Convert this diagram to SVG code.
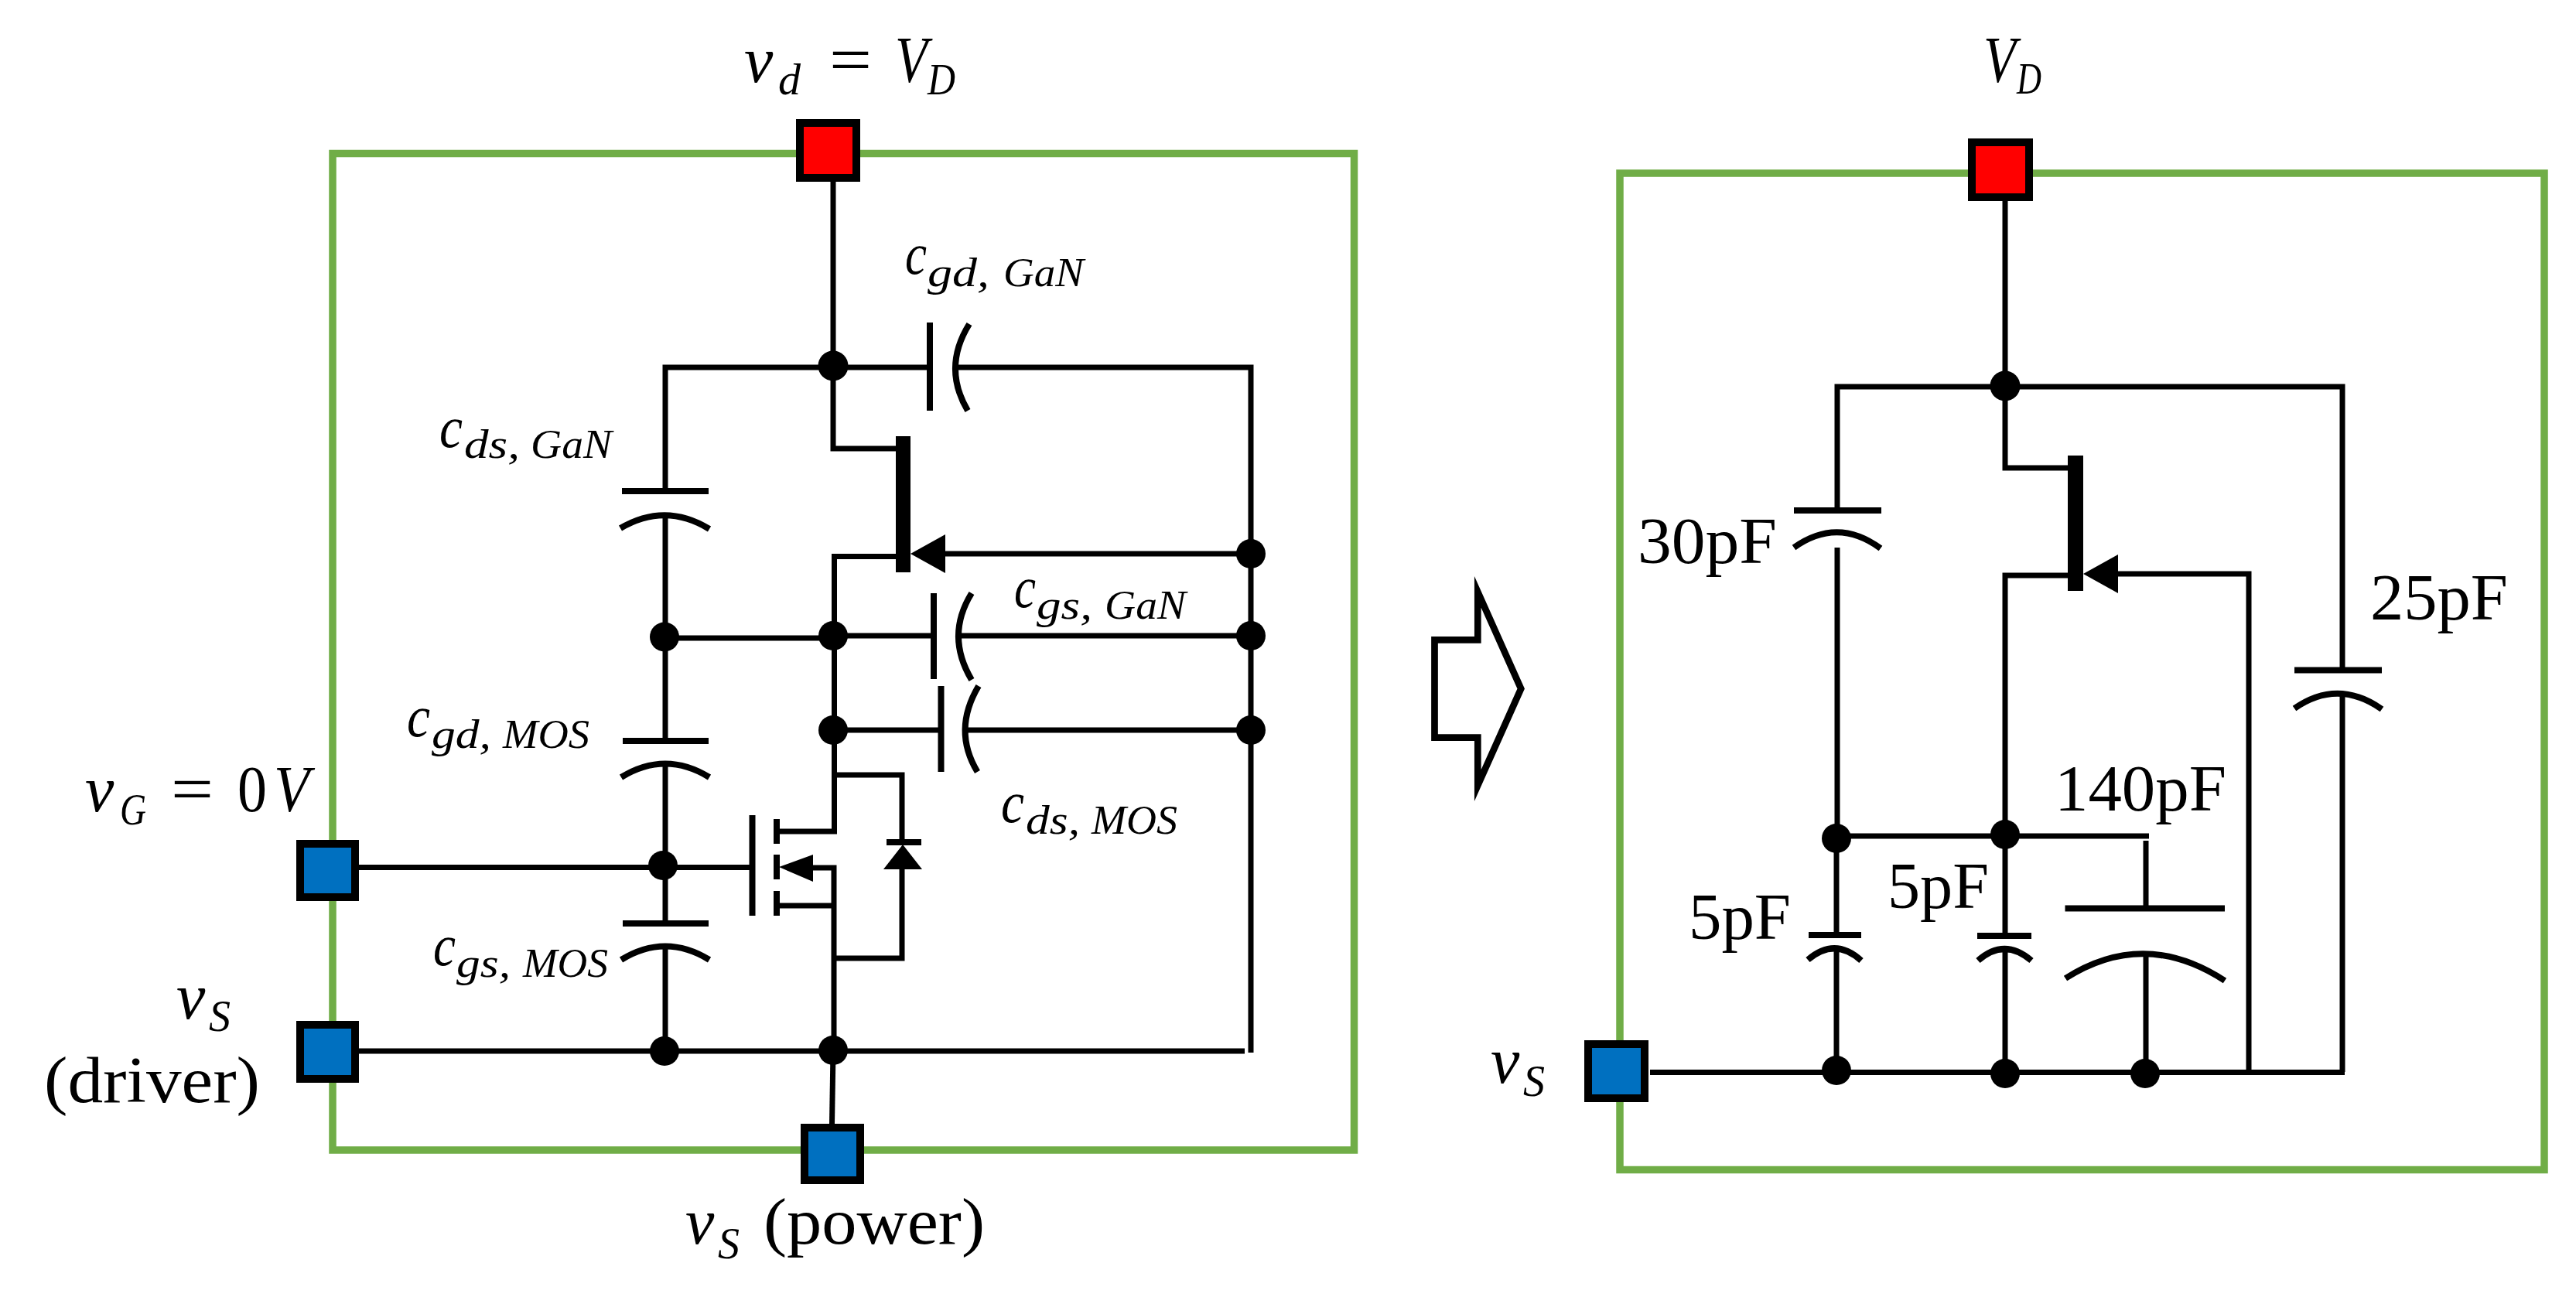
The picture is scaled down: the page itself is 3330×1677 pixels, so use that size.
<svg xmlns="http://www.w3.org/2000/svg" width="3330" height="1677" viewBox="0 0 3330 1677">
<style>
.frame{fill:none;stroke:#70AD47;stroke-width:9.5}
.w{fill:none;stroke:#000;stroke-width:7}
.p{fill:none;stroke:#000;stroke-width:8}
.a{fill:none;stroke:#000;stroke-width:8}
.k{fill:#000;stroke:none}
.red{fill:#FF0000;stroke:#000;stroke-width:10}
.blue{fill:#0070C0;stroke:#000;stroke-width:10}
text{font-family:"Liberation Serif","Times New Roman",serif;fill:#000;font-size:84px}
.i{font-style:italic}
.c{font-style:italic;font-size:76px}
.s{font-size:58px}
.t{font-size:52px}
</style>
<rect id="frame-left" class="frame" x="430" y="198.5" width="1320.5" height="1288.5"/>
<rect id="frame-right" class="frame" x="2094" y="224" width="1195" height="1288.5"/>
<g id="connectors">
<path class="w" d="M1077 235V580H1158"/>
<path class="w" d="M860 635V475H1202M1235 475H1617V1361"/>
<path class="w" d="M1222 716H1617"/>
<path class="w" d="M1158 719.500H1078.500V1075H1004"/>
<path class="w" d="M860 666V958M860 987V1194M860 1223V1359"/>
<path class="w" d="M860 825H1077"/>
<path class="w" d="M1077 822H1207M1239 822H1617"/>
<path class="w" d="M1077 944H1216M1248 944H1617"/>
<path class="w" d="M464 1121.500H969"/>
<path class="w" d="M1050 1122H1078V1359"/>
<path class="w" d="M1004 1171H1078"/>
<path class="w" d="M1078 1002H1166V1089M1166 1124V1239H1078"/>
<path class="w" d="M464 1359H1609"/>
<path class="w" d="M1077 1359L1075.500 1453"/>
<path class="w" d="M2592 260V605H2673"/>
<path class="w" d="M2375 660V500H3028V866M3028 897V1386"/>
<path class="w" d="M2738 742H2907V1386"/>
<path class="w" d="M2673 744H2592V1209M2592 1227V1386"/>
<path class="w" d="M2375 708V1084M2375 1081H2778M2774 1087V1174M2374 1084V1209M2374 1226V1386M2774 1232V1386"/>
<path class="w" d="M2133 1386.500H3031"/>
</g>
<g id="junctions">
<circle class="k" cx="1077" cy="473" r="19.500"/><circle class="k" cx="859" cy="823.500" r="19"/><circle class="k" cx="1077" cy="822" r="19"/><circle class="k" cx="1617" cy="822" r="19"/><circle class="k" cx="1617" cy="716" r="19"/><circle class="k" cx="1077" cy="944" r="19"/><circle class="k" cx="1617" cy="944" r="19"/><circle class="k" cx="857" cy="1119" r="19"/><circle class="k" cx="859" cy="1359" r="19"/><circle class="k" cx="1077" cy="1358" r="19"/>
<circle class="k" cx="2592" cy="499" r="19.500"/><circle class="k" cx="2374" cy="1084" r="19"/><circle class="k" cx="2592" cy="1079" r="19"/><circle class="k" cx="2374" cy="1384" r="19"/><circle class="k" cx="2592" cy="1388" r="19"/><circle class="k" cx="2773" cy="1388" r="19"/>
</g>
<g id="cap-gd-gan"><path class="p" d="M1202 417V531"/><path class="a" d="M1253 419Q1218 475 1251 531"/></g>
<g id="cap-ds-gan"><path class="p" d="M804 635H916"/><path class="a" d="M802 683Q860 649 917 684"/></g>
<g id="cap-gs-gan"><path class="p" d="M1207 767V878"/><path class="a" d="M1256 767Q1222 822 1256 879"/></g>
<g id="cap-ds-mos"><path class="p" d="M1216.500 887V998"/><path class="a" d="M1265 887Q1231 944 1263.500 998"/></g>
<g id="cap-gd-mos"><path class="p" d="M805 958H916"/><path class="a" d="M803 1005Q860 970 917 1005"/></g>
<g id="cap-gs-mos"><path class="p" d="M805 1194H916"/><path class="a" d="M803 1241Q860 1206 917 1241"/></g>
<g id="gan-hemt-left"><rect class="k" x="1158" y="564" width="19" height="176"/><path class="k" d="M1177 716L1222 691V741Z"/></g>
<g id="mosfet">
<path class="p" d="M972.500 1054V1184"/>
<path class="p" d="M1004 1059V1091M1004 1105V1137M1004 1152V1184"/>
<path class="k" d="M1007 1121L1051 1105V1140Z"/>
</g>
<g id="diode"><path class="p" d="M1146 1089H1191"/><path class="k" d="M1167 1092L1192 1124H1142Z"/></g>
<g id="port-vd"><rect class="red" x="1034" y="159" width="73" height="71"/></g>
<g id="port-vg"><rect class="blue" x="388" y="1091" width="71" height="69"/></g>
<g id="port-vs-driver"><rect class="blue" x="388" y="1325" width="71" height="70"/></g>
<g id="port-vs-power"><rect class="blue" x="1040" y="1458" width="72" height="68"/></g>
<g id="block-arrow"><path fill="#fff" stroke="#000" stroke-width="8.700" stroke-miterlimit="12" d="M1854.500 827.300H1910.300V765.300L1966.200 890.500L1910.300 1015.500V953.700H1854.500Z"/></g>
<g id="cap-30pf"><path class="p" d="M2319 660H2432"/><path class="a" d="M2319 708Q2375 668 2431 709"/></g>
<g id="cap-25pf"><path class="p" d="M2966 866.500H3079"/><path class="a" d="M2966 916Q3022 877 3079 917"/></g>
<g id="cap-5pf-a"><path class="p" d="M2338 1209H2406"/><path class="a" d="M2337 1241Q2372 1211 2406 1242"/></g>
<g id="cap-5pf-b"><path class="p" d="M2556 1210H2626"/><path class="a" d="M2557 1242Q2591 1212 2626 1242"/></g>
<g id="cap-140pf"><path class="p" d="M2669.500 1174.500H2876"/><path class="a" d="M2670 1265Q2772 1200 2876 1268"/></g>
<g id="gan-hemt-right"><rect class="k" x="2673" y="589" width="20" height="175"/><path class="k" d="M2693 742L2738 717V767Z"/></g>
<g id="port-vd-right"><rect class="red" x="2549" y="184" width="74" height="71"/></g>
<g id="port-vs-right"><rect class="blue" x="2053" y="1350" width="73" height="70"/></g>
<g id="labels">
<text><tspan class="i" x="962" y="106">v</tspan><tspan class="i s" x="1006" y="122">d</tspan><tspan x="1072" y="106" textLength="55" lengthAdjust="spacingAndGlyphs">=</tspan><tspan class="i" x="1157" y="106" textLength="42" lengthAdjust="spacingAndGlyphs">V</tspan><tspan class="i s" x="1199" y="122" textLength="36" lengthAdjust="spacingAndGlyphs">D</tspan></text>
<text><tspan class="i" x="110" y="1049">v</tspan><tspan class="i s" x="155" y="1066" textLength="34" lengthAdjust="spacingAndGlyphs">G</tspan><tspan x="221" y="1049" textLength="55" lengthAdjust="spacingAndGlyphs">=</tspan><tspan x="307" y="1049" textLength="38" lengthAdjust="spacingAndGlyphs">0</tspan><tspan class="i" x="354" y="1049" textLength="46" lengthAdjust="spacingAndGlyphs">V</tspan></text>
<text><tspan class="i" x="228" y="1317">v</tspan><tspan class="i s" x="270" y="1333" textLength="28" lengthAdjust="spacingAndGlyphs">S</tspan></text>
<text x="57" y="1425" textLength="279" lengthAdjust="spacingAndGlyphs">(driver)</text>
<text><tspan class="i" x="886" y="1608">v</tspan><tspan class="i s" x="928" y="1627" textLength="28" lengthAdjust="spacingAndGlyphs">S</tspan><tspan x="987" y="1608" textLength="286" lengthAdjust="spacingAndGlyphs">(power)</tspan></text>
<text class="c"><tspan x="568" y="578" textLength="30" lengthAdjust="spacingAndGlyphs">c</tspan><tspan class="t" x="600" y="592" textLength="72" lengthAdjust="spacingAndGlyphs">ds,</tspan><tspan class="t" x="686" y="592" textLength="105" lengthAdjust="spacingAndGlyphs">GaN</tspan></text>
<text class="c"><tspan x="1170" y="354" textLength="28" lengthAdjust="spacingAndGlyphs">c</tspan><tspan class="t" x="1199" y="370" textLength="80" lengthAdjust="spacingAndGlyphs">gd,</tspan><tspan class="t" x="1297" y="370" textLength="104" lengthAdjust="spacingAndGlyphs">GaN</tspan></text>
<text class="c"><tspan x="1311" y="785" textLength="28" lengthAdjust="spacingAndGlyphs">c</tspan><tspan class="t" x="1340" y="800" textLength="72" lengthAdjust="spacingAndGlyphs">gs,</tspan><tspan class="t" x="1428" y="800" textLength="105" lengthAdjust="spacingAndGlyphs">GaN</tspan></text>
<text class="c"><tspan x="526" y="952" textLength="30" lengthAdjust="spacingAndGlyphs">c</tspan><tspan class="t" x="558" y="967" textLength="77" lengthAdjust="spacingAndGlyphs">gd,</tspan><tspan class="t" x="650" y="967" textLength="112" lengthAdjust="spacingAndGlyphs">MOS</tspan></text>
<text class="c"><tspan x="560" y="1248" textLength="29" lengthAdjust="spacingAndGlyphs">c</tspan><tspan class="t" x="590" y="1263" textLength="70" lengthAdjust="spacingAndGlyphs">gs,</tspan><tspan class="t" x="676" y="1263" textLength="110" lengthAdjust="spacingAndGlyphs">MOS</tspan></text>
<text class="c"><tspan x="1294" y="1063" textLength="30" lengthAdjust="spacingAndGlyphs">c</tspan><tspan class="t" x="1326" y="1078" textLength="70" lengthAdjust="spacingAndGlyphs">ds,</tspan><tspan class="t" x="1411" y="1078" textLength="111" lengthAdjust="spacingAndGlyphs">MOS</tspan></text>
<text><tspan class="i" x="2564" y="106" textLength="42" lengthAdjust="spacingAndGlyphs">V</tspan><tspan class="i s" x="2607" y="121" textLength="32" lengthAdjust="spacingAndGlyphs">D</tspan></text>
<text><tspan class="i" x="1927" y="1400">v</tspan><tspan class="i s" x="1969" y="1417" textLength="28" lengthAdjust="spacingAndGlyphs">S</tspan></text>
<text x="2117" y="728" textLength="180" lengthAdjust="spacingAndGlyphs">30pF</text>
<text x="3064" y="801" textLength="178" lengthAdjust="spacingAndGlyphs">25pF</text>
<text x="2183" y="1214" textLength="132" lengthAdjust="spacingAndGlyphs">5pF</text>
<text x="2440" y="1174" textLength="131" lengthAdjust="spacingAndGlyphs">5pF</text>
<text x="2656" y="1048" textLength="222" lengthAdjust="spacingAndGlyphs">140pF</text>
</g>
</svg>
